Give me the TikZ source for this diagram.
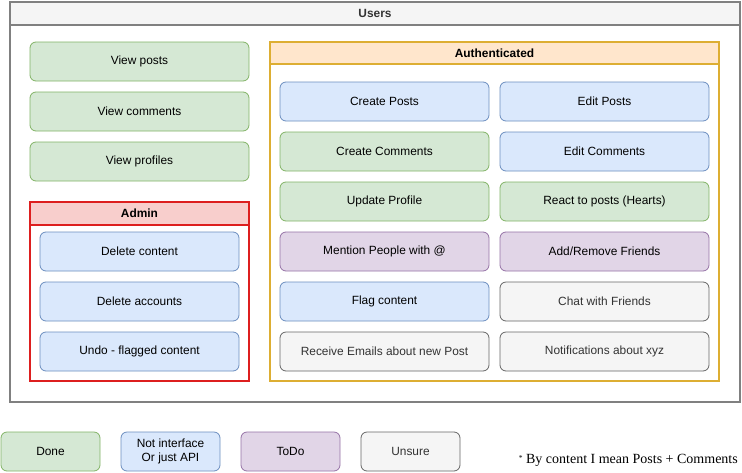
\documentclass[tikz,border=0pt]{standalone}
\usepackage{fontspec}
\setmainfont{Liberation Sans}
\newfontfamily\notefont{Liberation Serif}
\definecolor{donefill}{HTML}{D5E8D4}
\definecolor{donedraw}{HTML}{82B366}
\definecolor{apifill}{HTML}{DAE8FC}
\definecolor{apidraw}{HTML}{6C8EBF}
\definecolor{todofill}{HTML}{E1D5E7}
\definecolor{tododraw}{HTML}{9673A6}
\definecolor{unsurefill}{HTML}{F5F5F5}
\definecolor{unsuredraw}{HTML}{666666}
\definecolor{userdraw}{HTML}{808080}
\definecolor{adminfill}{HTML}{F8CECC}
\definecolor{admindraw}{HTML}{DD1F1F}
\definecolor{authfill}{HTML}{FFE6CC}
\definecolor{authdraw}{HTML}{DDAE33}
\begin{document}
\begin{tikzpicture}[x=1pt, y=-1pt,
    every node/.style={font=\fontsize{11.9}{13.5}\selectfont, align=center, inner sep=0pt},
    task/.style={rounded corners=6pt, draw, line width=0.8pt, minimum height=39pt},
    done/.style={task, fill=donefill, draw=donedraw},
    api/.style={task, fill=apifill, draw=apidraw},
    todo/.style={task, fill=todofill, draw=tododraw},
    unsure/.style={task, fill=unsurefill, draw=unsuredraw, text=black!80},
    lane/.style={draw, line width=1.6pt, font=\fontsize{11.9}{13.5}\selectfont\bfseries}]
\useasboundingbox[fill=white] (0,0) rectangle (742,472);
% containers
\draw[userdraw, line width=1.6pt] (10,2) rectangle (740,402);
\node[lane, draw=userdraw, fill=unsurefill, minimum width=730pt, minimum height=23pt, text=black!80] (users) at (375,13.5) {Users};
\draw[admindraw, line width=1.6pt] (30,202) rectangle (249,381);
\node[lane, draw=admindraw, fill=adminfill, minimum width=219pt, minimum height=23pt] (admin) at (139.5,213.5) {Admin};
\draw[authdraw, line width=1.6pt] (270,42) rectangle (719,381);
\node[lane, draw=authdraw, fill=authfill, minimum width=449pt, minimum height=22pt] (auth) at (494.5,53) {Authenticated};
% everyone
\node[done, minimum width=219pt] (viewposts) at (139.5,61.5) {View posts};
\node[done, minimum width=219pt] (viewcomments) at (139.5,111.5) {View comments};
\node[done, minimum width=219pt] (viewprofiles) at (139.5,161.5) {View profiles};
% admin
\node[api, minimum width=199pt] (delcontent) at (139.5,251.5) {Delete content};
\node[api, minimum width=199pt] (delaccounts) at (139.5,301.5) {Delete accounts};
\node[api, minimum width=199pt] (undoflag) at (139.5,351.5) {Undo - flagged content};
% authenticated
\node[api, minimum width=209pt] (createposts) at (384.5,101.5) {Create Posts};
\node[api, minimum width=209pt] (editposts) at (604.5,101.5) {Edit Posts};
\node[done, minimum width=209pt] (createcomments) at (384.5,151.5) {Create Comments};
\node[api, minimum width=209pt] (editcomments) at (604.5,151.5) {Edit Comments};
\node[done, minimum width=209pt] (updateprofile) at (384.5,201.5) {Update Profile};
\node[done, minimum width=209pt] (react) at (604.5,201.5) {React to posts (Hearts)};
\node[todo, minimum width=209pt] (mention) at (384.5,251.5) {Mention People with @};
\node[todo, minimum width=209pt] (friends) at (604.5,251.5) {Add/Remove Friends};
\node[api, minimum width=209pt] (flag) at (384.5,301.5) {Flag content};
\node[unsure, minimum width=209pt] (chat) at (604.5,301.5) {Chat with Friends};
\node[unsure, minimum width=209pt] (emails) at (384.5,351.5) {Receive Emails about new Post};
\node[unsure, minimum width=209pt] (notify) at (604.5,351.5) {Notifications about xyz};
% legend
\node[done, minimum width=99pt] (legdone) at (50.5,451.5) {Done};
\node[api, minimum width=99pt] (legapi) at (170.5,451.5) {Not interface\\Or just API};
\node[todo, minimum width=99pt] (legtodo) at (290.5,451.5) {ToDo};
\node[unsure, minimum width=99pt] (legunsure) at (410.5,451.5) {Unsure};
\node[font=\notefont\fontsize{14}{16}\selectfont, anchor=east] (note) at (738,460) {\raisebox{0.35ex}{\fontsize{7.5}{8}\selectfont *} By content I mean Posts + Comments};
\end{tikzpicture}
\end{document}
